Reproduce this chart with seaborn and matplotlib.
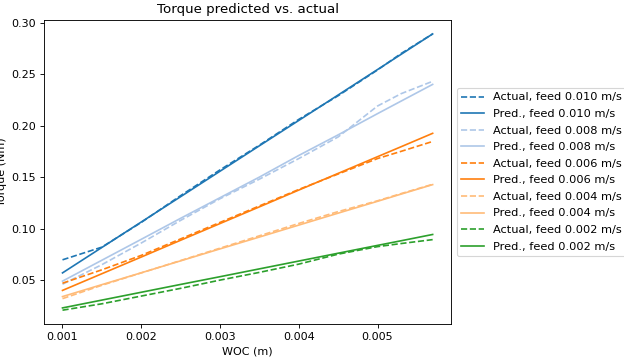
import numpy as np
import pandas as pd
import seaborn as sns
import matplotlib
matplotlib.use("Agg")
import matplotlib.pyplot as plt

# width of cut (m)
woc = [0.001, 0.0015, 0.002, 0.0025, 0.003, 0.0035, 0.004, 0.0045, 0.005, 0.0053, 0.0057]

feeds = ["0.010", "0.008", "0.006", "0.004", "0.002"]
colors = ["#1f77b4", "#aec7e8", "#ff7f0e", "#ffbb78", "#2ca02c"]

# measured torque (Nm)
actual_010 = [0.0697, 0.082, 0.106, 0.132, 0.157, 0.181, 0.206, 0.229, 0.254, 0.270, 0.289]
actual_008 = [0.046, 0.065, 0.086, 0.108, 0.129, 0.148, 0.168, 0.189, 0.219, 0.231, 0.243]
actual_006 = [0.047, 0.060, 0.074, 0.090, 0.106, 0.122, 0.138, 0.153, 0.168, 0.175, 0.1846]
actual_004 = [0.032, 0.045, 0.057, 0.069, 0.081, 0.093, 0.105, 0.1165, 0.127, 0.134, 0.143]
actual_002 = [0.0208, 0.027, 0.0345, 0.042, 0.050, 0.0575, 0.0655, 0.0752, 0.0825, 0.0855, 0.0893]

# model prediction (Nm)
pred_010 = [0.057, 0.0817, 0.1064, 0.131, 0.1557, 0.1804, 0.205, 0.2297, 0.2544, 0.2692, 0.289]
pred_008 = [0.049, 0.0693, 0.0896, 0.110, 0.130, 0.150, 0.171, 0.191, 0.2116, 0.2238, 0.240]
pred_006 = [0.040, 0.0562, 0.0724, 0.0887, 0.1049, 0.1211, 0.1374, 0.1536, 0.1698, 0.1795, 0.1925]
pred_004 = [0.034, 0.0456, 0.0571, 0.0687, 0.0803, 0.0918, 0.1034, 0.115, 0.1265, 0.1335, 0.1427]
pred_002 = [0.023, 0.0306, 0.0382, 0.0458, 0.0533, 0.0609, 0.0685, 0.0761, 0.0837, 0.0882, 0.0943]

actual = [actual_010, actual_008, actual_006, actual_004, actual_002]
pred = [pred_010, pred_008, pred_006, pred_004, pred_002]

fig, ax = plt.subplots(figsize=(7.8, 4.4875), dpi=80)
fig.subplots_adjust(left=0.0705, right=0.723, top=0.944, bottom=0.0975)

for feed, c, a, p in zip(feeds, colors, actual, pred):
    df = pd.DataFrame({"woc": woc, "actual": a, "pred": p})
    sns.lineplot(data=df, x="woc", y="actual", color=c, linestyle="--",
                 label=f"Actual, feed {feed} m/s", ax=ax)
    sns.lineplot(data=df, x="woc", y="pred", color=c,
                 label=f"Pred., feed {feed} m/s", ax=ax)

ax.set_xticks([0.001, 0.002, 0.003, 0.004, 0.005])
ax.set_title("Torque predicted vs. actual")
ax.set_xlabel("WOC (m)")
ax.set_ylabel("Torque (Nm)")
ax.legend(loc="center left", bbox_to_anchor=(1.0, 0.5), fontsize=10.2,
          labelspacing=0.58)

fig.savefig("out.png", dpi=80)
